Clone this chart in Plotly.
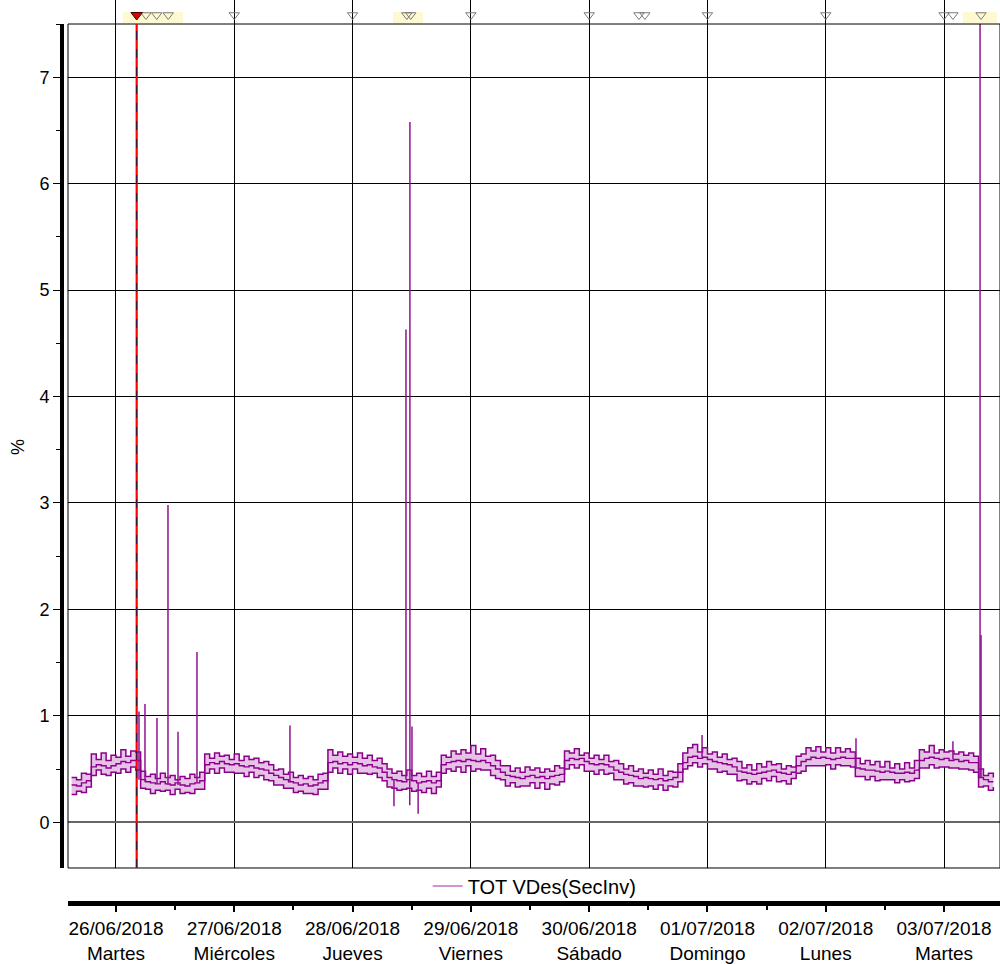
import pandas as pd
import plotly.graph_objects as go

series_name = "TOT VDes(SecInv)"
start_time = "2018-06-25 15:00"

# hourly mean of the unbalance (%), with the hourly upper / lower envelope
mean = [0.35, 0.34, 0.37, 0.39,
        0.52, 0.54, 0.53, 0.51, 0.53, 0.55, 0.57, 0.56, 0.58,
        0.58,
        0.40, 0.38, 0.37, 0.36, 0.38, 0.36, 0.35, 0.37, 0.35, 0.34, 0.36, 0.37, 0.39,
        0.54, 0.56, 0.55, 0.57, 0.55, 0.54, 0.55, 0.53, 0.52, 0.53, 0.51, 0.50, 0.49,
        0.46, 0.44, 0.42, 0.40, 0.38, 0.37, 0.35, 0.36, 0.34, 0.35, 0.37, 0.39,
        0.56, 0.57, 0.55, 0.56, 0.54, 0.56, 0.55, 0.53, 0.54, 0.52, 0.51,
        0.47,
        0.42, 0.40, 0.39, 0.38, 0.40, 0.39, 0.37, 0.38, 0.39, 0.37, 0.39,
        0.54, 0.56, 0.57, 0.58, 0.57, 0.59, 0.58, 0.57, 0.58, 0.56, 0.53,
        0.50, 0.47, 0.44, 0.43, 0.42, 0.41, 0.43, 0.44, 0.42, 0.43, 0.41, 0.43, 0.44, 0.45,
        0.58, 0.60, 0.59, 0.60, 0.57, 0.55, 0.54, 0.55, 0.54, 0.52, 0.49,
        0.47, 0.45, 0.44, 0.43, 0.41, 0.42, 0.41, 0.40, 0.41, 0.39, 0.40, 0.42,
        0.47, 0.56,
        0.61, 0.62, 0.60, 0.61, 0.59, 0.57, 0.56, 0.55, 0.54, 0.52,
        0.48, 0.47, 0.46, 0.45, 0.46, 0.47, 0.48, 0.49, 0.47, 0.46, 0.45, 0.47,
        0.53, 0.57, 0.59, 0.61, 0.60, 0.61, 0.60, 0.59, 0.60, 0.61, 0.60, 0.60,
        0.51, 0.50, 0.49, 0.49, 0.48, 0.47, 0.48, 0.47, 0.46, 0.46, 0.47, 0.46, 0.49,
        0.58, 0.60, 0.61, 0.60, 0.59, 0.60, 0.58, 0.59, 0.57, 0.58, 0.56, 0.56,
        0.42, 0.40, 0.38, 0.38]

upper = [0.42, 0.40, 0.46, 0.45,
         0.64, 0.59, 0.65, 0.58, 0.63, 0.61, 0.68, 0.62, 0.67,
         0.66,
         0.48, 0.43, 0.45, 0.41, 0.46, 0.42, 0.44, 0.40, 0.43, 0.41, 0.45, 0.42, 0.47,
         0.64, 0.60, 0.65, 0.62, 0.63, 0.59, 0.64, 0.58, 0.62, 0.59, 0.60, 0.56, 0.57,
         0.54, 0.49, 0.50, 0.45, 0.47, 0.42, 0.44, 0.41, 0.43, 0.40, 0.45, 0.46,
         0.68, 0.63, 0.66, 0.62, 0.64, 0.61, 0.65, 0.60, 0.63, 0.58, 0.60,
         0.55,
         0.50, 0.46, 0.48, 0.44, 0.49, 0.44, 0.46, 0.43, 0.48, 0.43, 0.47,
         0.63, 0.61, 0.67, 0.64, 0.68, 0.65, 0.72, 0.64, 0.69, 0.62, 0.63,
         0.58, 0.53, 0.53, 0.48, 0.51, 0.47, 0.52, 0.49, 0.51, 0.47, 0.50, 0.48, 0.53, 0.51,
         0.67, 0.65, 0.69, 0.63, 0.65, 0.60, 0.63, 0.59, 0.63, 0.57, 0.58,
         0.55, 0.50, 0.53, 0.48, 0.50, 0.46, 0.49, 0.45, 0.50, 0.44, 0.48, 0.47,
         0.55, 0.65,
         0.70, 0.73, 0.66, 0.70, 0.64, 0.66, 0.61, 0.64, 0.59, 0.60,
         0.57, 0.51, 0.54, 0.49, 0.55, 0.52, 0.57, 0.54, 0.55, 0.50, 0.53, 0.52,
         0.62, 0.64, 0.70, 0.67, 0.71, 0.66, 0.70, 0.65, 0.70, 0.66, 0.69, 0.66,
         0.60, 0.55, 0.58, 0.54, 0.57, 0.52, 0.57, 0.51, 0.55, 0.50, 0.56, 0.51, 0.58,
         0.68, 0.66, 0.72, 0.65, 0.68, 0.66, 0.67, 0.64, 0.66, 0.63, 0.65, 0.62,
         0.50, 0.44, 0.46, 0.42]

lower = [0.26, 0.29, 0.28, 0.33,
         0.44, 0.49, 0.45, 0.44, 0.47, 0.46, 0.50, 0.47, 0.52,
         0.49,
         0.32, 0.31, 0.27, 0.30, 0.29, 0.30, 0.26, 0.31, 0.27, 0.28, 0.27, 0.31, 0.31,
         0.46, 0.50, 0.46, 0.51, 0.47, 0.47, 0.46, 0.46, 0.43, 0.47, 0.42, 0.44, 0.40,
         0.39, 0.35, 0.35, 0.32, 0.32, 0.28, 0.29, 0.27, 0.27, 0.26, 0.31, 0.31,
         0.47, 0.51, 0.46, 0.50, 0.45, 0.50, 0.46, 0.46, 0.45, 0.46, 0.42,
         0.39,
         0.33, 0.32, 0.30, 0.31, 0.32, 0.29, 0.30, 0.28, 0.32, 0.27, 0.33,
         0.46, 0.50, 0.48, 0.52, 0.47, 0.53, 0.48, 0.50, 0.49, 0.49, 0.44,
         0.41, 0.40, 0.34, 0.37, 0.33, 0.34, 0.34, 0.37, 0.32, 0.37, 0.31, 0.36, 0.35, 0.38,
         0.50, 0.54, 0.51, 0.54, 0.48, 0.48, 0.45, 0.49, 0.45, 0.46, 0.40,
         0.40, 0.36, 0.37, 0.34, 0.34, 0.33, 0.34, 0.31, 0.35, 0.30, 0.34, 0.33,
         0.38, 0.50,
         0.53, 0.56, 0.52, 0.55, 0.50, 0.50, 0.47, 0.48, 0.45, 0.45,
         0.39, 0.40, 0.36, 0.38, 0.36, 0.41, 0.39, 0.43, 0.38, 0.39, 0.36, 0.41,
         0.46, 0.48, 0.53, 0.53, 0.53, 0.53, 0.54, 0.50, 0.54, 0.53, 0.53, 0.52,
         0.43, 0.43, 0.40, 0.43, 0.39, 0.40, 0.40, 0.40, 0.37, 0.40, 0.38, 0.39, 0.41,
         0.51, 0.51, 0.54, 0.51, 0.52, 0.52, 0.51, 0.51, 0.50, 0.50, 0.49, 0.47,
         0.33, 0.34, 0.30, 0.33]

# short excursions above the envelope
spike_times = ["2018-06-26 04:40", "2018-06-26 05:53", "2018-06-26 08:19",
               "2018-06-26 10:33", "2018-06-26 12:35", "2018-06-26 16:26",
               "2018-06-27 11:18", "2018-06-28 10:50", "2018-06-28 11:38",
               "2018-06-28 12:03", "2018-06-30 22:54", "2018-07-02 06:08",
               "2018-07-03 01:48", "2018-07-03 07:18", "2018-07-03 07:30"]
spike_values = [1.04, 1.11, 0.98, 2.98, 0.85, 1.60, 0.91, 4.63, 6.58,
                0.90, 0.82, 0.79, 0.76, 9.50, 1.76]

# short excursions below the envelope
dip_times = ["2018-06-28 08:24", "2018-06-28 11:36", "2018-06-28 13:18"]
dip_values = [0.15, 0.16, 0.08]

# event flags along the top edge
event_times = ["2018-06-26 06:05", "2018-06-26 08:16", "2018-06-26 10:36",
               "2018-06-27 00:00", "2018-06-28 00:00", "2018-06-28 11:00",
               "2018-06-28 11:48", "2018-06-29 00:00", "2018-06-30 00:00",
               "2018-06-30 10:06", "2018-06-30 11:18", "2018-07-01 00:00",
               "2018-07-02 00:00", "2018-07-03 00:00", "2018-07-03 01:48",
               "2018-07-03 07:30"]
cursor_time = "2018-06-26 04:12"

# highlighted event windows
highlight_windows = [("2018-06-26 01:24", "2018-06-26 13:36"),
                     ("2018-06-28 08:12", "2018-06-28 14:18"),
                     ("2018-07-03 03:48", "2018-07-03 10:42")]

day_ticks = ["2018-06-26", "2018-06-27", "2018-06-28", "2018-06-29",
             "2018-06-30", "2018-07-01", "2018-07-02", "2018-07-03"]
day_labels = ["26/06/2018<br>Martes", "27/06/2018<br>Miércoles",
              "28/06/2018<br>Jueves", "29/06/2018<br>Viernes",
              "30/06/2018<br>Sábado", "01/07/2018<br>Domingo",
              "02/07/2018<br>Lunes", "03/07/2018<br>Martes"]

x_range = ["2018-06-25 14:16", "2018-07-03 11:21"]
y_range = [-0.43, 7.5]

FONT = "Liberation Sans, Arial, sans-serif"
DARK = "#8b008b"
FILL = "#e6c3e6"

times = pd.date_range(start_time, periods=len(mean), freq="h")


def base_at(t):
    idx = int(round((pd.Timestamp(t) - times[0]) / pd.Timedelta(hours=1)))
    idx = max(0, min(len(mean) - 1, idx))
    return mean[idx]


fig = go.Figure()

fig.add_trace(go.Scatter(x=times, y=lower, mode="lines", line=dict(color=DARK, width=1.5, shape="hv"),
                         showlegend=False, hoverinfo="skip"))
fig.add_trace(go.Scatter(x=times, y=upper, mode="lines", fill="tonexty", fillcolor=FILL,
                         line=dict(color=DARK, width=1.5, shape="hv"),
                         showlegend=False, hoverinfo="skip"))
fig.add_trace(go.Scatter(x=times, y=mean, mode="lines", line=dict(color=DARK, width=1.4, shape="hv"),
                         showlegend=False))

sx, sy = [], []
for t, v in list(zip(spike_times, spike_values)) + list(zip(dip_times, dip_values)):
    sx += [t, t, None]
    sy += [base_at(t), v, None]
fig.add_trace(go.Scatter(x=sx, y=sy, mode="lines", line=dict(color="#921292", width=1.5),
                         showlegend=False, hoverinfo="skip"))

# legend entry
fig.add_trace(go.Scatter(x=[None], y=[None], mode="lines", name=series_name,
                         line=dict(color="#c070c0", width=1.5)))

# event flags live on a thin strip above the plot area
fig.add_trace(go.Scatter(x=event_times, y=[0.375] * len(event_times), yaxis="y3", mode="markers",
                         marker=dict(symbol="triangle-down-open", size=9, color="#7a7a7a",
                                     line=dict(width=1, color="#7a7a7a")),
                         cliponaxis=False, showlegend=False, hoverinfo="skip"))
fig.add_trace(go.Scatter(x=[cursor_time], y=[0.375], yaxis="y3", mode="markers",
                         marker=dict(symbol="triangle-down", size=10, color="#e00000",
                                     line=dict(width=1, color="#400000")),
                         cliponaxis=False, showlegend=False, hoverinfo="skip"))

# axis used only for the date labels below the legend
fig.add_trace(go.Scatter(x=[x_range[0]], y=[None], xaxis="x2", showlegend=False, hoverinfo="skip"))

shapes = []
for a, b in highlight_windows:
    shapes.append(dict(type="rect", xref="x", yref="y3 domain", x0=a, x1=b, y0=0.04, y1=0.5,
                       fillcolor="#fcf7c4", line=dict(width=0), layer="below", opacity=0.8))
shapes.append(dict(type="rect", xref="x domain", yref="y domain", x0=0, x1=1, y0=0, y1=1,
                   line=dict(color="black", width=1)))
shapes.append(dict(type="line", xref="x", yref="y domain", x0=cursor_time, x1=cursor_time, y0=0, y1=1,
                   line=dict(color="#ff0000", width=2.2)))
shapes.append(dict(type="line", xref="x", yref="y domain", x0=cursor_time, x1=cursor_time, y0=0, y1=1,
                   line=dict(color="#1a1a40", width=1, dash="dash")))

fig.update_layout(
    width=1000, height=964,
    margin=dict(l=60, r=0, t=0, b=61, autoexpand=False),
    paper_bgcolor="white", plot_bgcolor="white",
    font=dict(family=FONT, color="black", size=18),
    shapes=shapes,
    showlegend=True,
    legend=dict(orientation="h", x=0.505, xanchor="center", y=0.0188, yanchor="middle",
                bgcolor="rgba(0,0,0,0)", font=dict(size=20, family=FONT)),
    xaxis=dict(domain=[0.00851, 1], range=x_range, type="date", automargin=False,
               tickvals=day_ticks, showticklabels=False, ticks="",
               showgrid=True, gridcolor="black", gridwidth=1,
               showline=False, zeroline=False),
    xaxis2=dict(overlaying="x", anchor="free", position=0, domain=[0.00851, 1],
                range=x_range, type="date", matches="x", automargin=False,
                tickvals=day_ticks, ticktext=day_labels, ticks="outside", ticklen=6, tickwidth=2,
                tickcolor="black", tickfont=dict(size=19, family=FONT),
                minor=dict(ticks="outside", ticklen=4, tickwidth=2, tickcolor="black",
                           dtick=43200000, tick0="2018-06-26 12:00", showgrid=False),
                showgrid=False, showline=True, linewidth=5, linecolor="black", zeroline=False),
    yaxis=dict(domain=[0.03876, 0.97342], range=y_range, anchor="free", position=0.00213,
               automargin=False, tickmode="linear", tick0=0, dtick=1,
               ticks="outside", ticklen=7, tickwidth=1, tickcolor="black",
               tickfont=dict(size=18, family=FONT),
               minor=dict(ticks="outside", ticklen=4, tickwidth=1, tickcolor="black",
                          dtick=0.5, tick0=0, showgrid=False),
               showgrid=True, gridcolor="black", gridwidth=1,
               zeroline=True, zerolinecolor="#666666", zerolinewidth=2,
               showline=True, linewidth=4, linecolor="black"),
    yaxis3=dict(domain=[0.97342, 1], range=[0, 1], anchor="x", visible=False,
                fixedrange=True, automargin=False),
    annotations=[dict(text="%", xref="paper", yref="paper", x=-0.0447, y=0.505, xanchor="center",
                      yanchor="middle", textangle=-90, showarrow=False,
                      font=dict(size=18, family=FONT))],
)

fig.write_html("out.html")
